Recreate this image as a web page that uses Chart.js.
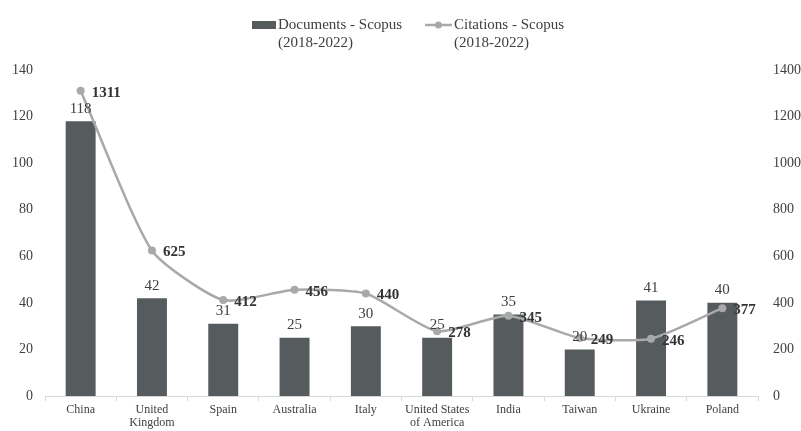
<!DOCTYPE html>
<html>
<head>
<meta charset="utf-8">
<script src="https://cdn.jsdelivr.net/npm/chart.js@4"></script>
<style>
  html, body { margin: 0; padding: 0; background: #fff; }
  #wrap { width: 801px; height: 431px; }
</style>
</head>
<body>
<div id="wrap"><canvas id="chart" width="801" height="431"></canvas></div>
<script>
// Chart data
const countries = ["China", ["United", "Kingdom"], "Spain", "Australia", "Italy",
    ["United States", "of America"], "India", "Taiwan", "Ukraine", "Poland"];
const documents = [118, 42, 31, 25, 30, 25, 35, 20, 41, 40];
const citations = [1311, 625, 412, 456, 440, 278, 345, 249, 246, 377];
const legendLabels = [["Documents - Scopus", "(2018-2022)"], ["Citations - Scopus", "(2018-2022)"]];

const barColor = "#565c5e";
const lineColor = "#a9a9a9";
const textColor = "#404040";
const serif = "'Liberation Serif', 'Times New Roman', serif";

// Draws value labels and the two-line legend
const labelsPlugin = {
    id: "labels",
    afterDatasetsDraw(chart) {
        const ctx = chart.ctx;
        ctx.save();
        // bar values above bars (dataset 1)
        ctx.font = "15px " + serif;
        ctx.fillStyle = textColor;
        ctx.textAlign = "center";
        ctx.textBaseline = "bottom";
        chart.getDatasetMeta(1).data.forEach((bar, i) => {
            ctx.fillText(documents[i], bar.x, bar.y - 5);
        });
        // line values right of points (dataset 0)
        ctx.font = "bold 15px " + serif;
        ctx.fillStyle = "#333";
        ctx.textAlign = "left";
        ctx.textBaseline = "middle";
        chart.getDatasetMeta(0).data.forEach((pt, i) => {
            ctx.fillText(citations[i], pt.x + 11, pt.y + 2);
        });

        // legend
        ctx.font = "15px " + serif;
        ctx.textBaseline = "middle";
        ctx.fillStyle = barColor;
        ctx.fillRect(252, 21, 24, 8);
        ctx.fillStyle = textColor;
        ctx.fillText(legendLabels[0][0], 278, 25);
        ctx.fillText(legendLabels[0][1], 278, 43);

        ctx.strokeStyle = lineColor;
        ctx.lineWidth = 2.5;
        ctx.beginPath();
        ctx.moveTo(425, 25);
        ctx.lineTo(452, 25);
        ctx.stroke();
        ctx.fillStyle = lineColor;
        ctx.beginPath();
        ctx.arc(438.5, 25, 3.5, 0, Math.PI * 2);
        ctx.fill();
        ctx.fillStyle = textColor;
        ctx.fillText(legendLabels[1][0], 454, 25);
        ctx.fillText(legendLabels[1][1], 454, 43);
        ctx.restore();
    }
};

const ctx = document.getElementById("chart").getContext("2d");
const chart = new Chart(ctx, {
    data: {
        labels: countries,
        datasets: [{
            type: "line",
            label: "Citations - Scopus (2018-2022)",
            data: citations,
            yAxisID: "y1",
            borderColor: lineColor,
            backgroundColor: lineColor,
            borderWidth: 2.5,
            pointRadius: 4,
            pointBackgroundColor: lineColor,
            pointBorderWidth: 0,
            tension: 0.2,
            order: 0,
        }, {
            type: "bar",
            label: "Documents - Scopus (2018-2022)",
            data: documents,
            yAxisID: "y",
            backgroundColor: barColor,
            categoryPercentage: 1,
            barPercentage: 0.42,
            order: 1,
        }],
    },
    options: {
        responsive: false,
        animation: false,
        layout: { padding: { top: 70, left: 0, right: 0, bottom: 0 } },
        plugins: {
            legend: { display: false },
            tooltip: { enabled: false },
        },
        scales: {
            x: {
                afterFit(scale) { scale.height = 35; },
                grid: {
                    display: true,
                    drawOnChartArea: false,
                    offset: true,
                    color: "#d9d9d9",
                    tickLength: 5,
                },
                border: { color: "#d9d9d9" },
                ticks: {
                    color: textColor,
                    font: { family: serif, size: 12, lineHeight: 1.05 },
                    maxRotation: 0,
                    autoSkip: false,
                    padding: 3,
                },
            },
            y: {
                position: "left",
                min: 0,
                max: 140,
                afterFit(scale) { scale.width = 45; },
                grid: { display: false },
                border: { display: false },
                ticks: {
                    stepSize: 20,
                    color: textColor,
                    font: { family: serif, size: 14 },
                    padding: 4,
                },
            },
            y1: {
                position: "right",
                min: 0,
                max: 1400,
                afterFit(scale) { scale.width = 43; },
                grid: { display: false },
                border: { display: false },
                ticks: {
                    stepSize: 200,
                    color: textColor,
                    font: { family: serif, size: 14 },
                    padding: 7,
                    callback: (v) => String(v),
                },
            },
        },
    },
    plugins: [labelsPlugin],
});
</script>
</body>
</html>
